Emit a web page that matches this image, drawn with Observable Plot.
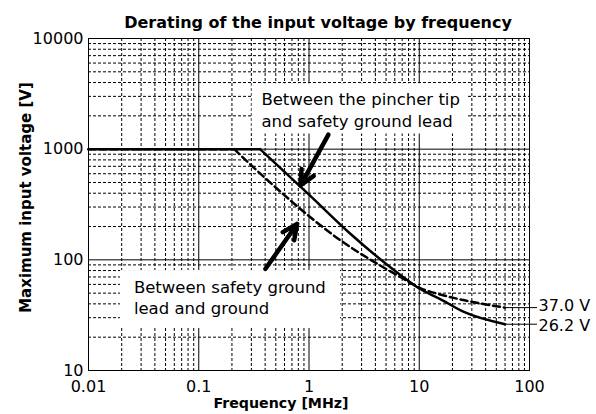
<!DOCTYPE html>
<html><head><meta charset="utf-8">
<script src="https://cdn.jsdelivr.net/npm/d3@7"></script>
<script src="https://cdn.jsdelivr.net/npm/@observablehq/plot@0.6"></script>
<style>body{margin:0;background:#fff} svg{display:block}</style>
</head><body><div id="chart"></div>
<script>
// Curve data (frequency in MHz, maximum input voltage in V)
const solidFreq = [0.01, 0.36, 1.0, 2.37, 6.74, 10.2, 15.5, 25.1, 60];
const solidVolt = [1000, 1000, 388, 172, 73.1, 54.5, 44.2, 34.0, 26.2];
const dashFreq = [0.01, 0.21, 0.294, 0.496, 0.836, 1.81, 4.17, 6.74, 10.2, 15.5, 25.1, 60];
const dashVolt = [1000, 1000, 727, 453, 288, 157, 92, 70, 55.6, 48.6, 43.3, 37.0];

// End labels
const endValues = [37.0, 26.2];
const endTexts = ["37.0 V", "26.2 V"];

// Ticks / grid
const xDecades = [0.01, 0.1, 1, 10, 100];
const xMinor = [0.02,0.03,0.04,0.05,0.06,0.07,0.08,0.09,
                0.2,0.3,0.4,0.5,0.6,0.7,0.8,0.9,
                2,3,4,5,6,7,8,9,
                20,30,40,50,60,70,80,90];
const yDecades = [10, 100, 1000, 10000];
const yMinor = [20,30,40,50,60,70,80,90,
                200,300,400,500,600,700,800,900,
                2000,3000,4000,5000,6000,7000,8000,9000];

// Text
const title = "Derating of the input voltage by frequency";
const xLabel = "Frequency [MHz]";
const yLabel = "Maximum input voltage [V]";
const note1 = "Between the pincher tip\nand safety ground lead";
const note2 = "Between safety ground\nlead and ground";

const solid = solidFreq.map((f, i) => ({f, v: solidVolt[i]}));
const dashed = dashFreq.map((f, i) => ({f, v: dashVolt[i]}));
const ends = endValues.map((v, i) => ({v, t: endTexts[i]}));

const chart = Plot.plot({
  width: 596, height: 414,
  marginLeft: 88, marginRight: 67, marginTop: 38, marginBottom: 44,
  style: {fontFamily: "'DejaVu Sans', sans-serif", fontSize: "16px", color: "#000", background: "#fff", overflow: "visible"},
  x: {type: "log", domain: [0.01, 100], ticks: xDecades, tickFormat: d => String(d), tickSize: 0, tickPadding: 10, label: null},
  y: {type: "log", domain: [10, 10000], ticks: yDecades, tickFormat: d => String(d), tickSize: 0, tickPadding: 5, label: null},
  marks: [
    Plot.ruleX(xMinor, {stroke: "#000", strokeWidth: 1, strokeDasharray: "3,2"}),
    Plot.ruleY(yMinor, {stroke: "#000", strokeWidth: 1, strokeDasharray: "3,2"}),
    Plot.ruleX(xDecades, {stroke: "#000", strokeWidth: 1}),
    Plot.ruleY(yDecades, {stroke: "#000", strokeWidth: 1}),
    Plot.rect([{x1: 0.305, x2: 27.9, y1: 1371, y2: 3900}], {x1: "x1", x2: "x2", y1: "y1", y2: "y2", fill: "#fff"}),
    Plot.rect([{x1: 0.0195, x2: 1.93, y1: 24, y2: 80}], {x1: "x1", x2: "x2", y1: "y1", y2: "y2", fill: "#fff"}),
    Plot.frame({stroke: "#000", strokeWidth: 1}),
    // flat parts
    Plot.line(solid.slice(0, 2), {x: "f", y: "v", stroke: "#000", strokeWidth: 2.5}),
    Plot.line(dashed.slice(0, 2), {x: "f", y: "v", stroke: "#000", strokeWidth: 2.5, strokeDasharray: "7,4"}),
    // falling parts
    Plot.line(solid.slice(1), {x: "f", y: "v", stroke: "#000", strokeWidth: 2.5, curve: "monotone-x"}),
    Plot.line(dashed.slice(1), {x: "f", y: "v", stroke: "#000", strokeWidth: 2.5, strokeDasharray: "7,4", curve: "monotone-x"}),
    Plot.arrow([
      {x1: 1.50, y1: 1352, x2: 0.836, y2: 469},
      {x1: 0.403, y1: 83, x2: 0.780, y2: 211}
    ], {x1: "x1", y1: "y1", x2: "x2", y2: "y2", stroke: "#000", strokeWidth: 4.5, headLength: 5.5, headAngle: 50}),
    Plot.link(ends, {x1: () => 60, x2: () => 117, y1: "v", y2: "v", stroke: "#000", strokeWidth: 1}),
    Plot.text(ends.slice(0, 1), {x: () => 100, y: "v", text: "t", textAnchor: "start", dx: 9, dy: -1.5, fontSize: 16}),
    Plot.text(ends.slice(1), {x: () => 100, y: "v", text: "t", textAnchor: "start", dx: 9, dy: 1.5, fontSize: 16}),
    Plot.text([note1], {x: () => 0.370, y: () => 1597, textAnchor: "start", lineAnchor: "bottom", lineHeight: 1.3, fontSize: 16.5}),
    Plot.text([note2], {x: () => 0.0258, y: () => 32.1, textAnchor: "start", lineAnchor: "bottom", lineHeight: 1.3, fontSize: 16.5}),
    Plot.text([title], {frameAnchor: "top", dy: -11, dx: 9, lineAnchor: "bottom", fontWeight: "bold", fontSize: 16}),
    Plot.text([xLabel], {frameAnchor: "bottom", dy: 37, dx: -28, lineAnchor: "bottom", fontWeight: "bold", fontSize: 14.2}),
    Plot.text([yLabel], {frameAnchor: "left", textAnchor: "middle", dx: -62, dy: -7, rotate: -90, fontWeight: "bold", fontSize: 15})
  ]
});
document.getElementById("chart").appendChild(chart);
</script>
</body></html>
